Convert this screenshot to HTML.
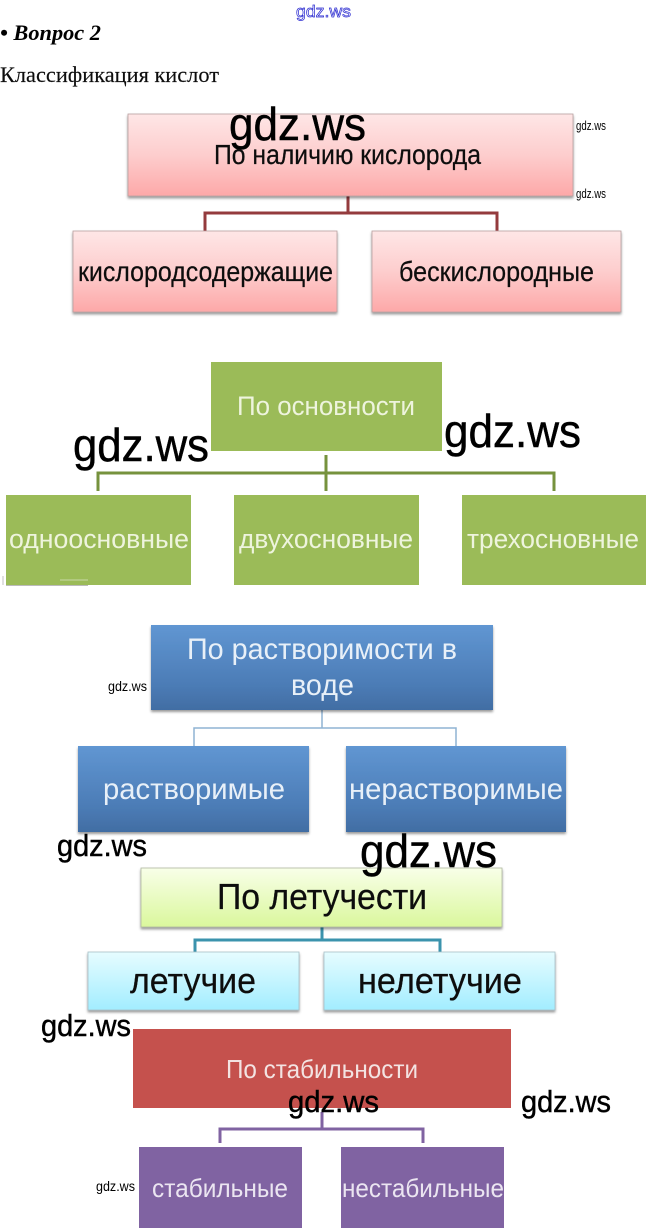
<!DOCTYPE html>
<html lang="ru">
<head>
<meta charset="utf-8">
<title>Классификация кислот</title>
<style>
html,body{margin:0;padding:0;background:#fff;width:646px;height:1228px;overflow:hidden}
svg{display:block}
text{font-family:"Liberation Sans","DejaVu Sans",sans-serif;text-anchor:start}
.serif{font-family:"Liberation Serif",serif}
.w{fill:#000;stroke:#000;stroke-width:.45}
.t{stroke:currentColor;stroke-width:.25}
</style>
</head>
<body>
<svg xmlns="http://www.w3.org/2000/svg" width="646" height="1228" viewBox="0 0 646 1228">
<defs>
<linearGradient id="r" x1="0" y1="0" x2="0" y2="1"><stop offset="0" stop-color="#fee6e6"/><stop offset=".5" stop-color="#fdcdcd"/><stop offset="1" stop-color="#fda8a8"/></linearGradient>
<linearGradient id="b" x1="0" y1="0" x2="0" y2="1"><stop offset="0" stop-color="#6096d2"/><stop offset=".7" stop-color="#4c7cb6"/><stop offset="1" stop-color="#416da3"/></linearGradient>
<linearGradient id="l" x1="0" y1="0" x2="0" y2="1"><stop offset="0" stop-color="#f8ffe8"/><stop offset="1" stop-color="#daf79c"/></linearGradient>
<linearGradient id="c" x1="0" y1="0" x2="0" y2="1"><stop offset="0" stop-color="#e6fcff"/><stop offset="1" stop-color="#a2edff"/></linearGradient>
<filter id="s" x="-5%" y="-10%" width="110%" height="125%"><feDropShadow dx="0" dy="2" stdDeviation="1.3" flood-color="#000" flood-opacity=".4"/></filter>
<filter id="soft" x="0" y="0" width="100%" height="100%"><feGaussianBlur stdDeviation=".35"/></filter>
</defs>

<g filter="url(#soft)">
<!-- header -->
<text x="296" y="17" font-size="17" fill="#fff" stroke="#2a2ad0" stroke-width=".7" textLength="55" lengthAdjust="spacingAndGlyphs">gdz.ws</text>
<text class="serif" x="0" y="40" font-size="22" font-weight="bold" font-style="italic" fill="#000" textLength="101" lengthAdjust="spacingAndGlyphs">• Вопрос 2</text>
<text class="serif" x="0" y="82" font-size="22" fill="#111" stroke="#111" stroke-width=".15" textLength="219" lengthAdjust="spacingAndGlyphs">Классификация кислот</text>

<!-- red group -->
<path d="M348 196V213M205 231V213H497V231" fill="none" stroke="#943a3e" stroke-width="3"/>
<rect x="128" y="114" width="445" height="82" fill="url(#r)" stroke="#b9a0a0" stroke-width=".8" filter="url(#s)"/>
<rect x="73" y="231" width="264" height="81" fill="url(#r)" stroke="#b9a0a0" stroke-width=".8" filter="url(#s)"/>
<rect x="372" y="231" width="249" height="81" fill="url(#r)" stroke="#b9a0a0" stroke-width=".8" filter="url(#s)"/>
<text class="t" color="#111" x="214" y="164" font-size="28" fill="#111" textLength="267" lengthAdjust="spacingAndGlyphs">По наличию кислорода</text>
<text class="t" color="#111" x="78" y="281" font-size="28" fill="#111" textLength="255" lengthAdjust="spacingAndGlyphs">кислородсодержащие</text>
<text class="t" color="#111" x="399" y="281" font-size="28" fill="#111" textLength="195" lengthAdjust="spacingAndGlyphs">бескислородные</text>

<!-- green group -->
<path d="M326 455V491M98 491V473H554V491" fill="none" stroke="#76923c" stroke-width="3"/>
<rect x="211" y="362" width="231" height="89" fill="#9bbb59"/>
<rect x="6" y="495" width="185" height="90" fill="#9bbb59"/>
<rect x="234" y="495" width="185" height="90" fill="#9bbb59"/>
<rect x="462" y="495" width="184" height="90" fill="#9bbb59"/>
<text x="237" y="415" font-size="27" fill="#eef4dd" textLength="178" lengthAdjust="spacingAndGlyphs">По основности</text>
<text x="9" y="548" font-size="27" fill="#eef4dd" textLength="180" lengthAdjust="spacingAndGlyphs">одноосновные</text>
<text x="239" y="548" font-size="27" fill="#eef4dd" textLength="174" lengthAdjust="spacingAndGlyphs">двухосновные</text>
<text x="467" y="548" font-size="27" fill="#eef4dd" textLength="172" lengthAdjust="spacingAndGlyphs">трехосновные</text>
<path d="M3 576V585" stroke="#ccc" stroke-width="1.2" fill="none"/>
<path d="M6 585.5H88" stroke="#bbb" stroke-width="1" fill="none"/>
<path d="M60 580H88" stroke="#c8d8a8" stroke-width="1" fill="none"/>

<!-- blue group -->
<path d="M322 710V728M194 746V728H456V746" fill="none" stroke="#8fb3d4" stroke-width="1.5"/>
<rect x="151" y="625" width="342" height="85" fill="url(#b)" filter="url(#s)"/>
<rect x="78" y="746" width="231" height="86" fill="url(#b)" filter="url(#s)"/>
<rect x="346" y="746" width="220" height="86" fill="url(#b)" filter="url(#s)"/>
<text x="187" y="659" font-size="30" fill="#e8f0f8" textLength="270" lengthAdjust="spacingAndGlyphs">По растворимости в</text>
<text x="291" y="695" font-size="30" fill="#e8f0f8" textLength="63" lengthAdjust="spacingAndGlyphs">воде</text>
<text x="103" y="799" font-size="30" fill="#e8f0f8" textLength="182" lengthAdjust="spacingAndGlyphs">растворимые</text>
<text x="349" y="799" font-size="30" fill="#e8f0f8" textLength="214" lengthAdjust="spacingAndGlyphs">нерастворимые</text>

<!-- lime / cyan group -->
<path d="M322 927V940M195 952V940H440V952" fill="none" stroke="#3a93ad" stroke-width="3"/>
<rect x="141" y="868" width="361" height="59" fill="url(#l)" stroke="#b0b8a0" stroke-width=".8" filter="url(#s)"/>
<rect x="88" y="952" width="211" height="58" fill="url(#c)" stroke="#a8c0c8" stroke-width=".8" filter="url(#s)"/>
<rect x="324" y="952" width="231" height="58" fill="url(#c)" stroke="#a8c0c8" stroke-width=".8" filter="url(#s)"/>
<text class="t" color="#111" x="217" y="909" font-size="36" fill="#111" textLength="210" lengthAdjust="spacingAndGlyphs">По летучести</text>
<text class="t" color="#111" x="130" y="993" font-size="36" fill="#111" textLength="126" lengthAdjust="spacingAndGlyphs">летучие</text>
<text class="t" color="#111" x="358" y="993" font-size="36" fill="#111" textLength="164" lengthAdjust="spacingAndGlyphs">нелетучие</text>

<!-- dark red / purple group -->
<path d="M322 1112V1129M220 1143V1129H423V1143" fill="none" stroke="#8064a2" stroke-width="3"/>
<rect x="133" y="1029" width="378" height="79" fill="#c5514d"/>
<rect x="139" y="1147" width="163" height="81" fill="#8064a2"/>
<rect x="341" y="1147" width="163" height="81" fill="#8064a2"/>
<text x="226" y="1078" font-size="26" fill="#f3e3e2" textLength="192" lengthAdjust="spacingAndGlyphs">По стабильности</text>
<text x="152" y="1197" font-size="26" fill="#ebe5f1" textLength="136" lengthAdjust="spacingAndGlyphs">стабильные</text>
<text x="342" y="1197" font-size="26" fill="#ebe5f1" textLength="162" lengthAdjust="spacingAndGlyphs">нестабильные</text>

<!-- watermarks -->
<text class="w" x="229" y="140" font-size="46" textLength="137" lengthAdjust="spacingAndGlyphs">gdz.ws</text>
<text class="w" x="73" y="461" font-size="46" textLength="136" lengthAdjust="spacingAndGlyphs">gdz.ws</text>
<text class="w" x="444" y="447" font-size="46" textLength="137" lengthAdjust="spacingAndGlyphs">gdz.ws</text>
<text class="w" x="360" y="867" font-size="46" textLength="137" lengthAdjust="spacingAndGlyphs">gdz.ws</text>
<text class="w" x="57" y="856" font-size="31" textLength="90" lengthAdjust="spacingAndGlyphs">gdz.ws</text>
<text class="w" x="41" y="1036" font-size="31" textLength="90" lengthAdjust="spacingAndGlyphs">gdz.ws</text>
<text class="w" x="288" y="1112" font-size="31" textLength="91" lengthAdjust="spacingAndGlyphs">gdz.ws</text>
<text class="w" x="521" y="1112" font-size="31" textLength="90" lengthAdjust="spacingAndGlyphs">gdz.ws</text>
<text x="576" y="130" font-size="13" fill="#000" textLength="30" lengthAdjust="spacingAndGlyphs">gdz.ws</text>
<text x="576" y="198" font-size="13" fill="#000" textLength="30" lengthAdjust="spacingAndGlyphs">gdz.ws</text>
<text x="108" y="691" font-size="14" fill="#000" textLength="39" lengthAdjust="spacingAndGlyphs">gdz.ws</text>
<text x="96" y="1191" font-size="14" fill="#000" textLength="39" lengthAdjust="spacingAndGlyphs">gdz.ws</text>
</g>
</svg>
</body>
</html>
